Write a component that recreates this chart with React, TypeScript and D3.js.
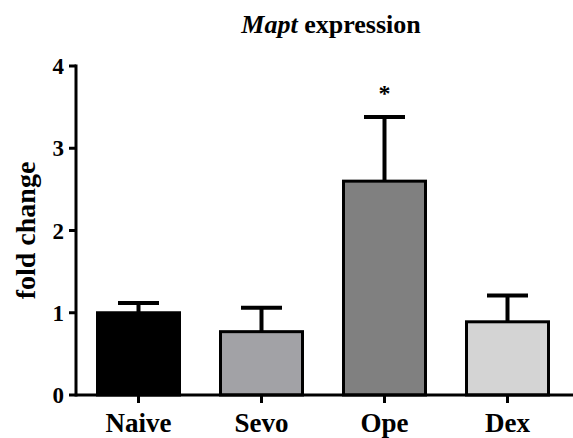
import React from "react";
import * as d3 from "d3";

const categories = ["Naive", "Sevo", "Ope", "Dex"];
const means = [1.0, 0.77, 2.6, 0.89];
const errors = [0.12, 0.29, 0.78, 0.32];
const fills = ["#000000", "#a2a2a6", "#808080", "#d4d4d4"];
const yTicks = [0, 1, 2, 3, 4];
const sigMarks = ["", "", "*", ""];

export default function App() {
  const W = 573, H = 438;
  const x = d3.scaleBand<string>().domain(categories).range([77, 569]).paddingInner(1 / 3).paddingOuter(1 / 6);
  const y = d3.scaleLinear().domain([0, 4]).range([395, 66]);
  const font = "'Liberation Serif', 'Times New Roman', serif";
  const axisX = 76;
  return (
    <svg width={W} height={H} style={{ position: "absolute", left: 0, top: 0, background: "#fff" }}>
      <text x={331} y={33} textAnchor="middle" fontFamily={font} fontWeight="bold" fontSize={26}>
        <tspan fontStyle="italic">Mapt</tspan> expression
      </text>
      <text transform={`translate(35,${(y(0) + y(4)) / 2}) rotate(-90)`} textAnchor="middle" fontFamily={font} fontWeight="bold" fontSize={28}>
        fold change
      </text>
      {categories.map((c, i) => {
        const bx = x(c)!;
        const bw = x.bandwidth();
        const cx = bx + bw / 2;
        return (
          <g key={c}>
            <line x1={cx} x2={cx} y1={y(means[i])} y2={y(means[i] + errors[i])} stroke="#000" strokeWidth={4} />
            <line x1={cx - 20.5} x2={cx + 20.5} y1={y(means[i] + errors[i])} y2={y(means[i] + errors[i])} stroke="#000" strokeWidth={4} />
            <rect x={bx} y={y(means[i])} width={bw} height={y(0) - y(means[i])} fill={fills[i]} stroke="#000" strokeWidth={3} />
            {sigMarks[i] && (
              <text x={cx} y={y(means[i] + errors[i]) - 16} textAnchor="middle" fontFamily={font} fontWeight="bold" fontSize={24}>
                {sigMarks[i]}
              </text>
            )}
            <line x1={cx} x2={cx} y1={y(0)} y2={y(0) + 8} stroke="#000" strokeWidth={3} />
            <text x={cx} y={432} textAnchor="middle" fontFamily={font} fontWeight="bold" fontSize={27}>
              {c}
            </text>
          </g>
        );
      })}
      <line x1={axisX} x2={573} y1={y(0)} y2={y(0)} stroke="#000" strokeWidth={3} />
      <line x1={axisX} x2={axisX} y1={y(4) - 1.5} y2={y(0) + 1.5} stroke="#000" strokeWidth={3} />
      {yTicks.map((t) => (
        <g key={t}>
          <line x1={axisX - 7} x2={axisX} y1={y(t)} y2={y(t)} stroke="#000" strokeWidth={3} />
          <text x={axisX - 12} y={y(t)} dy="0.35em" textAnchor="end" fontFamily={font} fontWeight="bold" fontSize={23}>
            {t}
          </text>
        </g>
      ))}
    </svg>
  );
}
